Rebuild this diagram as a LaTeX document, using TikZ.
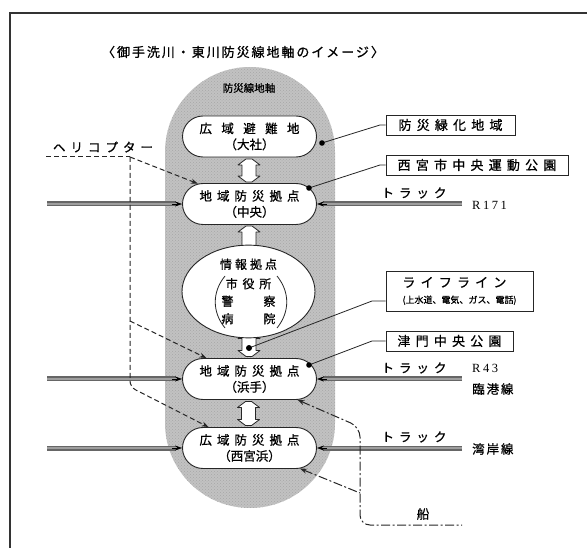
\documentclass[tikz,border=0pt]{standalone}
\usepackage{fontspec}
\newfontfamily\jp[FakeBold=0.8]{Noto Sans CJK JP}
\newfontfamily\jpS[LetterSpace=15,FakeBold=0.8]{Noto Sans CJK JP}
\newfontfamily\jpT[LetterSpace=25,FakeBold=0.8]{Noto Sans CJK JP}
\newfontfamily\jpM[LetterSpace=40,FakeBold=0.8]{Noto Sans CJK JP}
\newfontfamily\jpL[LetterSpace=75,FakeBold=0.8]{Noto Sans CJK JP}
\newfontfamily\serifS[LetterSpace=20]{Liberation Serif}
\usetikzlibrary{shapes.misc,shapes.geometric,arrows.meta,patterns,calc}
\newcommand\dblarr[3]{%
  \draw[black!85, fill=white, line width=0.8pt, line join=round]
    (#1-3,#2-#3) -- (#1+3,#2-#3) -- (#1+11,#2-#3+6) -- (#1+7,#2-#3+6) -- (#1+7,#2+#3-6)
    -- (#1+11,#2+#3-6) -- (#1+3,#2+#3) -- (#1-3,#2+#3) -- (#1-11,#2+#3-6) -- (#1-7,#2+#3-6)
    -- (#1-7,#2-#3+6) -- (#1-11,#2-#3+6) -- cycle;}
\begin{document}
\begin{tikzpicture}[x=1pt,y=-1pt,
  every node/.style={inner sep=0pt},
  axisband/.style={rectangle, rounded corners=85pt, minimum width=170pt, minimum height=441pt, fill=black!24, postaction={pattern=crosshatch dots, pattern color=black!35}},
  base/.style={rounded rectangle, draw=black!85, line width=0.9pt, fill=white, minimum width=134pt, minimum height=41pt, align=center, font=\fontsize{12.5}{16}\selectfont\jp},
  info/.style={ellipse, draw=black!85, line width=0.9pt, fill=white, minimum width=133pt, minimum height=77pt, align=center, font=\fontsize{12}{17.5}\selectfont\jp},
  lbl/.style={rectangle, draw=black!85, line width=0.9pt, fill=white, minimum height=20pt, font=\fontsize{13}{15}\selectfont\jpM},
  truck/.style={draw=black!60, double=black!38, line width=1.2pt, double distance=2.6pt},
  tip/.style={-{Stealth[length=7pt,width=5pt]}, line width=0.6pt, black},
  heli/.style={black!85, line width=1pt, dash pattern=on 5pt off 3pt},
  ship/.style={black!85, line width=1pt, dash pattern=on 9pt off 2.5pt on 2pt off 2.5pt},
  leader/.style={black!85, line width=0.8pt},
  dot/.style={black},
  jtext/.style={font=\fontsize{12.5}{15}\selectfont\jpM}
]
\useasboundingbox (0,0) rectangle (587,548);
\clip (0,0) rectangle (587,548);
\fill[white] (0,0) rectangle (587,548);

% frame
\draw[line width=1.3pt, black!80] (10,560) -- (10,13) -- (600,13);

% title
\node[font=\fontsize{13}{15}\selectfont\jpS] (title) at (243,52) {〈御手洗川・東川防災線地軸のイメージ〉};

% gray axis band
\node[axisband] (ax) at (250,287.5) {};
\node[font=\fontsize{10.5}{12}\selectfont\jp] (axlabel) at (249,88) {防災線地軸};

% double arrows between nodes
\dblarr{249}{170.5}{11.5}
\dblarr{249}{239}{13}
\dblarr{249}{344.5}{12}
\dblarr{248.5}{413.5}{12}

% main nodes
\node[base] (n1) at (249.5,136.5) {{\jpL 広域避難地}\\（大社）};
\node[base] (n2) at (249.5,204) {{\jpM 地域防災拠点}\\（中央）};
\node[info] (n3) at (248.5,291.5) {{\jpT 情報拠点}\\[2pt]{\jpM 市役所}\\{\jpL 警　察}\\{\jpL 病　院}};
\node[base] (n4) at (249.5,379) {{\jpM 地域防災拠点}\\（浜手）};
\node[base] (n5) at (249.5,448) {{\jpM 広域防災拠点}\\（西宮浜）};

% parentheses in info node
\draw[black!85, line width=0.8pt] (225,276) .. controls (212,292) and (212,312) .. (225,328);
\draw[black!85, line width=0.8pt] (277,276) .. controls (290,292) and (290,312) .. (277,328);

% label boxes
\node[lbl, minimum width=129pt] (b1) at (450.5,125) {防災緑化地域};
\node[lbl, minimum width=182pt] (b2) at (477,165) {西宮市中央運動公園};
\node[lbl, minimum width=147pt, minimum height=40pt, align=left] (b3) at (459.5,291) {ライフライン\\[1pt]{\fontsize{9}{11}\selectfont\jp (上水道、電気、ガス、電話)}};
\node[lbl, minimum width=127pt] (b4) at (449.5,341) {津門中央公園};

% leader lines with dots
\coordinate (d1) at (322,143);
\coordinate (e1) at (380,125);
\coordinate (d2) at (309,188);
\coordinate (e2) at (380,165);
\coordinate (d3) at (249,348);
\coordinate (e3) at (372,301);
\coordinate (d4) at (309,365);
\coordinate (e4) at (372,341);
\draw[leader] (d1) -- (e1) -- (b1.west);
\draw[leader] (d2) -- (e2) -- (b2.west);
\draw[leader] (d3) -- (e3) -- (e3 -| b3.west);
\draw[leader] (d4) -- (e4) -- (b4.west);
\fill[dot] (d1) circle (2.8pt);
\fill[dot] (d2) circle (2.8pt);
\fill[dot] (d3) circle (3pt);
\fill[dot] (d4) circle (2.8pt);

% trucks from the left
\coordinate (L1) at (47,204);
\coordinate (L2) at (47,379);
\coordinate (L3) at (47,448);
\draw[truck, shorten >=6pt] (L1) -- (n2.west);
\draw[truck, shorten >=6pt] (L2) -- (n4.west);
\draw[truck, shorten >=6pt] (L3) -- (n5.west);
\draw[tip] ($(n2.west)+(-10,0)$) -- (n2.west);
\draw[tip] ($(n4.west)+(-10,0)$) -- (n4.west);
\draw[tip] ($(n5.west)+(-10,0)$) -- (n5.west);

% trucks from the right
\coordinate (R1) at (462,204);
\coordinate (R2) at (462,379);
\coordinate (R3) at (462,448);
\draw[truck, shorten >=6pt] (R1) -- (n2.east);
\draw[truck, shorten >=6pt] (R2) -- (n4.east);
\draw[truck, shorten >=6pt] (R3) -- (n5.east);
\draw[tip] ($(n2.east)+(10,0)$) -- (n2.east);
\draw[tip] ($(n4.east)+(10,0)$) -- (n4.east);
\draw[tip] ($(n5.east)+(10,0)$) -- (n5.east);

\node[jtext] (t1) at (414,193) {トラック};
\node[jtext] (t2) at (414,368) {トラック};
\node[jtext] (t3) at (414,437) {トラック};
\node[anchor=west, font=\fontsize{12.5}{14}\selectfont\serifS] (r171) at (472,205) {R171};
\node[anchor=west, font=\fontsize{12.5}{14}\selectfont\serifS] (r43) at (472,368) {R43};
\node[anchor=west, font=\fontsize{12.5}{14}\selectfont\jpS] (rk) at (472,389) {臨港線};
\node[anchor=west, font=\fontsize{12.5}{14}\selectfont\jpS] (wg) at (472,449) {湾岸線};

% helicopter
\node[jtext] (heli) at (103,147) {ヘリコプター};
\coordinate (hL) at (46,157);
\coordinate (hA) at (130,157);
\coordinate (hM) at (130,321);
\coordinate (hB) at (130,387);
\draw[heli] (hL) -- (hA);
\draw[heli, -{Stealth[length=7pt,width=5pt]}] (hA) -- (n2);
\draw[heli, -{Stealth[length=7pt,width=5pt]}, rounded corners=6pt] (hA) -- (hB) -- (n5);
\draw[heli, -{Stealth[length=7pt,width=5pt]}] (hM) -- (n4);

% ship
\coordinate (s1) at (360,427);
\coordinate (s2) at (360,493);
\coordinate (s3) at (360,525);
\coordinate (sE) at (462,525);
\draw[ship, {Stealth[length=7pt,width=5pt]}-, rounded corners=10pt] (n4) -- (s1) -- (s3) -- (sE);
\draw[ship, {Stealth[length=7pt,width=5pt]}-] (n5) -- (s2);
\node[font=\fontsize{12.5}{14}\selectfont\jp] (ship) at (423,514) {船};
\end{tikzpicture}
\end{document}
